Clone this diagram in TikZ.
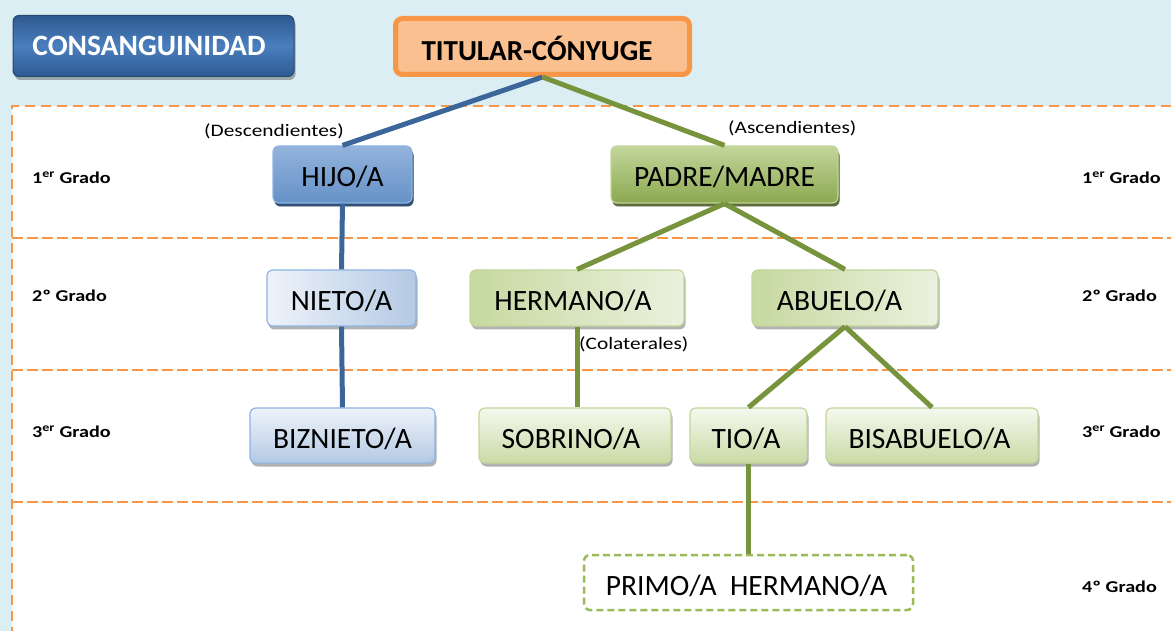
\documentclass[tikz,border=0pt]{standalone}
\usepackage{fontspec}
\setmainfont{Carlito}
\newfontfamily\anchafont[FakeStretch=1.22]{Carlito}
\usetikzlibrary{positioning, shadows}

\definecolor{fondo}{HTML}{DAEEF3}
\definecolor{naranja}{HTML}{F79646}
\definecolor{naranjaclaro}{HTML}{FAC090}
\definecolor{azulrama}{HTML}{3C6699}
\definecolor{verderama}{HTML}{77933C}
\definecolor{azuloscuro}{HTML}{2E5A8F}
\definecolor{azulmedio}{HTML}{4A7EBE}
\definecolor{azulalto}{HTML}{93B3DB}
\definecolor{azulclaro}{HTML}{EEF3FA}
\definecolor{azulpalido}{HTML}{B4C9E4}
\definecolor{bordeazul}{HTML}{8EB4E3}
\definecolor{sombraazul}{HTML}{24466F}
\definecolor{verdemedio}{HTML}{9BBB59}
\definecolor{verdealto}{HTML}{C3D69B}
\definecolor{verdeclaro}{HTML}{C6D9A0}
\definecolor{verdepalido}{HTML}{EBF1DE}
\definecolor{bordeverde}{HTML}{C3D69B}
\definecolor{sombraverde}{HTML}{4F6228}

\begin{document}
\begin{tikzpicture}[x=1pt, y=-1pt]
	\tikzstyle{caja}=[rounded corners=6pt, inner sep=0pt, text=black,
		font=\fontsize{29.5}{31}\selectfont, text height=25pt, text depth=0pt,
		drop shadow={shadow xshift=1.5pt, shadow yshift=-3.5pt, fill=black, opacity=0.3}]
	\tikzstyle{hijoc}=[caja, draw=bordeazul, line width=1.2pt, top color=azulalto, middle color=azulmedio, bottom color=azulmedio!85!white,
		drop shadow={shadow xshift=1.5pt, shadow yshift=-3.5pt, fill=sombraazul, opacity=0.9}]
	\tikzstyle{azulc}=[caja, draw=bordeazul, line width=1.2pt, shading angle=200, left color=azulclaro, right color=azulpalido]
	\tikzstyle{azulbc}=[caja, draw=bordeazul, line width=1.2pt, top color=azulclaro, bottom color=azulpalido]
	\tikzstyle{padrec}=[caja, draw=bordeverde, line width=1.2pt, top color=verdealto, middle color=verdemedio, bottom color=verdemedio!90!black,
		drop shadow={shadow xshift=1.5pt, shadow yshift=-3.5pt, fill=sombraverde, opacity=0.85}]
	\tikzstyle{verdec}=[caja, draw=bordeverde, line width=1.2pt, shading angle=70, left color=verdeclaro, right color=verdepalido]
	\tikzstyle{verdepc}=[caja, draw=bordeverde, line width=1.2pt, top color=verdepalido!50!white, bottom color=verdealto!90!white]
	\tikzstyle{ramaazul}=[draw=azulrama, line width=5pt]
	\tikzstyle{ramaverde}=[draw=verderama, line width=5pt]
	\tikzstyle{grado}=[anchor=west, inner sep=0pt, font=\anchafont\fontsize{16.5}{18}\selectfont\bfseries]
	\tikzstyle{rotulo}=[inner sep=0pt, font=\anchafont\fontsize{17.5}{19}\selectfont]

	% fondo y franjas
	\useasboundingbox (0,0) rectangle (1171,631);
	\fill[fondo] (0,0) rectangle (1171,631);
	\fill[white] (12,106) rectangle (1171,631);
	\draw[naranja, line width=2.5pt, dash pattern=on 10pt off 6pt] (1171,106) -- (12,106) -- (12,631);
	\draw[naranja, line width=1.8pt, dash pattern=on 11pt off 4pt] (12,238) -- (1171,238);
	\draw[naranja, line width=1.8pt, dash pattern=on 11pt off 4pt] (12,370) -- (1171,370);
	\draw[naranja, line width=1.8pt, dash pattern=on 11pt off 4pt] (12,502) -- (1171,502);

	% cabecera
	\node (cons) at (153.5,46) [caja, draw=azuloscuro!80!black, line width=1pt,
		top color=azuloscuro, bottom color=azuloscuro, middle color=azulmedio,
		minimum width=281pt, minimum height=61pt, text=white, text height=20pt,
		font=\fontsize{29.5}{31}\selectfont\bfseries] {CONSANGUINIDAD\hspace*{9pt}};
	\node (tit) at (542.5,46.5) [rounded corners=7pt, draw=naranja, line width=5pt, fill=naranjaclaro,
		minimum width=294pt, minimum height=56pt, inner sep=0pt, text height=29pt, text depth=0pt,
		font=\fontsize{29}{31}\selectfont\bfseries] {TITULAR-CÓNYUGE\hspace*{11pt}};

	% 1er grado
	\node (hijo) at (342.5,174.5) [hijoc, minimum width=139pt, minimum height=57pt] {HIJO/A};
	\node (padre) at (724.5,174.5) [padrec, minimum width=227pt, minimum height=57pt] {PADRE/MADRE};

	% 2o grado
	\node (nieto) at (341.5,298) [azulc, minimum width=149pt, minimum height=56pt] {NIETO/A};
	\node (herm) at (577,298) [verdec, minimum width=214pt, minimum height=56pt] {HERMANO/A\hspace*{8pt}};
	\node (abu) at (845,298) [verdec, minimum width=186pt, minimum height=56pt] {ABUELO/A\hspace*{11pt}};

	% 3er grado
	\node (biz) at (342.5,435.5) [azulbc, minimum width=185pt, minimum height=55pt] {BIZNIETO/A};
	\node (sob) at (575,435.5) [verdepc, minimum width=192pt, minimum height=55pt] {SOBRINO/A\hspace*{8pt}};
	\node (tio) at (748.5,435.5) [verdepc, minimum width=117pt, minimum height=55pt] {TIO/A\hspace*{5pt}};
	\node (bis) at (932,435.5) [verdepc, minimum width=212pt, minimum height=55pt] {BISABUELO/A\hspace*{5pt}};

	% 4o grado
	\node (primo) at (748.5,582.5) [rounded corners=6pt, draw=verdemedio, line width=2.5pt,
		dash pattern=on 7pt off 4pt, fill=white, minimum width=329pt, minimum height=55pt,
		inner sep=0pt, text height=25pt, text depth=0pt,
		font=\fontsize{29.5}{31}\selectfont] {PRIMO/A\ \ HERMANO/A\hspace*{4pt}};

	% ramas
	\draw[ramaazul] (tit.south) -- (hijo.north);
	\draw[ramaverde] (tit.south) -- (padre.north);
	\draw[ramaazul] (hijo.south) -- (nieto.north);
	\draw[ramaazul] (nieto.south) -- (biz.north);
	\draw[ramaverde] (padre.south) -- (herm.north);
	\draw[ramaverde] (padre.south) -- (abu.north);
	\draw[ramaverde] (herm.south) -- (herm.south |- sob.north);
	\draw[ramaverde] (abu.south) -- (tio.north);
	\draw[ramaverde] (abu.south) -- (bis.north);
	\draw[ramaverde] (tio.south) -- (primo.north);

	% rotulos
	\node (desc) at (344,131) [rotulo, anchor=east] {(Descendientes)};
	\node (asc) at (728,128) [rotulo, anchor=west] {(Ascendientes)};
	\node (col) at (579,344) [rotulo, anchor=west] {(Colaterales)};

	% grados
	\node (gi1) at (32,178) [grado] {1\textsuperscript{er} Grado};
	\node (gi2) at (32,296) [grado] {2º Grado};
	\node (gi3) at (32,432) [grado] {3\textsuperscript{er} Grado};
	\node (gd1) at (1082,178) [grado] {1\textsuperscript{er} Grado};
	\node (gd2) at (1082,296) [grado] {2º Grado};
	\node (gd3) at (1082,432) [grado] {3\textsuperscript{er} Grado};
	\node (gd4) at (1082,587) [grado] {4º Grado};
\end{tikzpicture}
\end{document}
